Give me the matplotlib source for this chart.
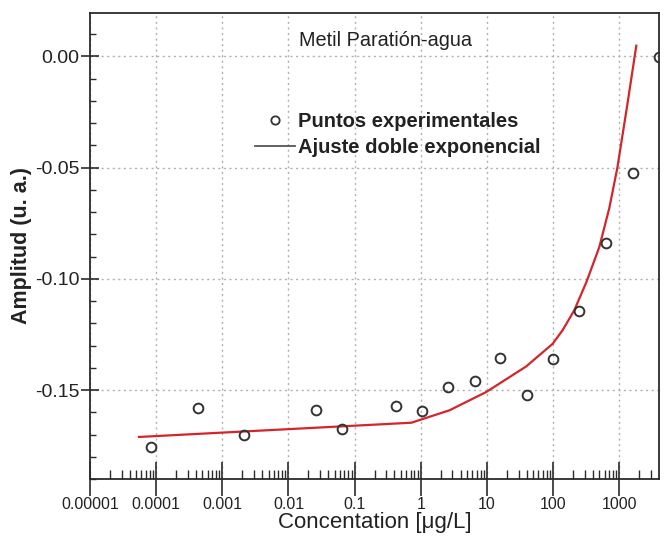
import numpy as np
import matplotlib
matplotlib.use("Agg")
import matplotlib.pyplot as plt
from matplotlib.ticker import LogLocator, MultipleLocator, FixedLocator, NullFormatter
from matplotlib.lines import Line2D

plt.rcParams['font.family'] = ['Liberation Sans', 'DejaVu Sans']

# puntos experimentales
conc = [8.5e-5, 4.3e-4, 2.1e-3, 0.0264, 0.0652, 0.416, 1.04, 2.62, 6.64,
        16.0, 39.9, 101, 249, 630, 1626, 3917]
amp = [-0.1754, -0.1581, -0.1704, -0.1591, -0.1674, -0.1573, -0.1596, -0.1486,
       -0.1459, -0.1354, -0.1522, -0.1360, -0.1144, -0.0838, -0.0525, -0.0003]

# curva de ajuste doble exponencial
fit_x = [5.5e-5, 0.718, 2.72, 9.73, 39.1, 98.5, 139, 209, 318, 499, 706, 933,
         1321, 1807]
fit_y = [-0.1711, -0.1647, -0.1591, -0.1509, -0.1394, -0.1292, -0.1231, -0.1141,
         -0.1015, -0.0857, -0.0682, -0.0502, -0.0218, 0.0048]

xticks = [1e-5, 1e-4, 1e-3, 1e-2, 1e-1, 1, 10, 100, 1000]
xticklabels = ['0.00001', '0.0001', '0.001', '0.01', '0.1', '1', '10', '100', '1000']
yticks = [0.0, -0.05, -0.10, -0.15]
yticklabels = ['0.00', '-0.05', '-0.10', '-0.15']

fig = plt.figure(figsize=(6.67, 5.39), dpi=100)
ax = fig.add_axes([90/667, 1 - 479/539, (659 - 90)/667, (479 - 13)/539])

dark = '#2b2b2b'
ax.plot(fit_x, fit_y, color='#d3262a', lw=1.6, zorder=3)
ax.plot(conc, amp, 'o', mfc='none', mec='#333333', mew=1.4, ms=7, zorder=4)

ax.set_xscale('log')
ax.set_xlim(1e-5, 10**3.6)
ax.set_ylim(-0.190, 0.0195)

ax.xaxis.set_major_locator(FixedLocator(xticks))
ax.set_xticklabels(xticklabels)
ax.xaxis.set_minor_locator(LogLocator(base=10, subs=np.arange(2, 10), numticks=20))
ax.xaxis.set_minor_formatter(NullFormatter())
ax.set_yticks(yticks)
ax.set_yticklabels(yticklabels)
ax.yaxis.set_minor_locator(MultipleLocator(0.01))

ax.tick_params(axis='x', which='major', direction='inout', length=24, width=1.2,
               color=dark, labelsize=11.5, labelcolor='#222222', pad=1)
ax.tick_params(axis='x', which='minor', direction='in', length=6.5, width=1.0, color=dark)
ax.tick_params(axis='y', which='major', direction='inout', length=13, width=1.2,
               color=dark, labelsize=14, labelcolor='#222222', pad=1)
ax.tick_params(axis='y', which='minor', direction='in', length=4, width=1.0, color=dark)

for s in ax.spines.values():
    s.set_color(dark)
    s.set_linewidth(1.3)

ax.grid(True, which='major', color='#b0b0b0', linestyle=(0, (1.5, 2.5)), lw=1.0)

ax.set_xlabel('Concentation [μg/L]', fontsize=16, color='#222222', labelpad=0)
ax.set_ylabel('Amplitud (u. a.)', fontsize=15.5, fontweight='bold', color='#222222', labelpad=2)

ax.text(0.52, 0.94, 'Metil Paratión-agua', transform=ax.transAxes, ha='center', va='center',
        fontsize=14.3, color='#222222')

handles = [Line2D([], [], ls='none', marker='o', mfc='none', mec='#333333', mew=1.3, ms=6),
           Line2D([], [], color='#555555', lw=1.3)]
leg = ax.legend(handles, ['Puntos experimentales', 'Ajuste doble exponencial'],
                loc='upper left', bbox_to_anchor=(0.29, 0.787), frameon=False,
                prop={'weight': 'bold', 'size': 14.5}, handlelength=2.0,
                handletextpad=0.15, labelspacing=0.35, borderpad=0, borderaxespad=0)
for t in leg.get_texts():
    t.set_color('#222222')

fig.savefig('out.png', dpi=100)
